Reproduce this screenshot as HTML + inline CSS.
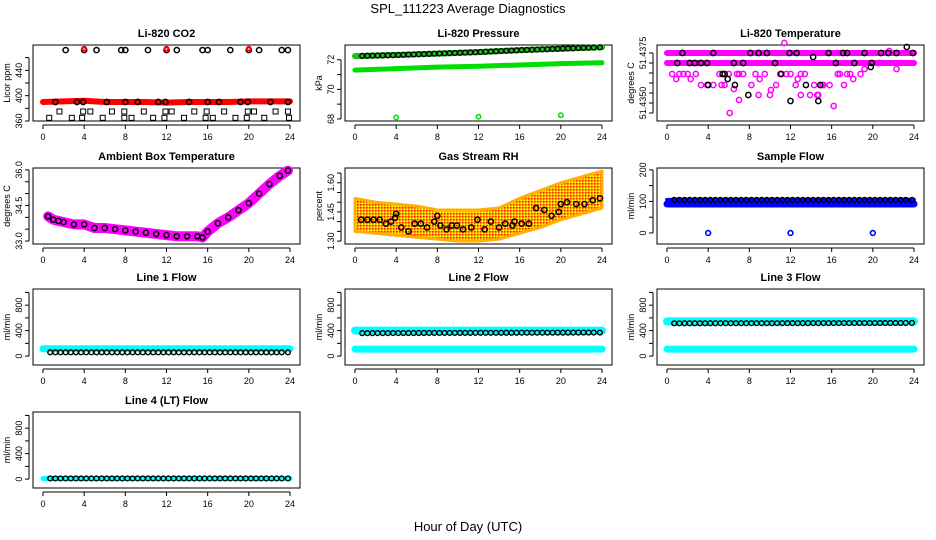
<!DOCTYPE html>
<html><head><meta charset="utf-8"><style>
html,body{margin:0;padding:0;background:#fff;}
svg{display:block;font-family:"Liberation Sans",sans-serif;}
</style></head><body>
<svg id="chart" width="936" height="540" viewBox="0 0 936 540" xmlns="http://www.w3.org/2000/svg">
<defs>
<pattern id="rhpat" width="3" height="3" patternUnits="userSpaceOnUse"><rect width="3" height="3" fill="#ffb000"/><rect x="0" y="0" width="1.5" height="1.5" fill="#ff2000"/><rect x="1.5" y="1.5" width="1.5" height="1.5" fill="#ffff00"/></pattern>
</defs>
<text x="468" y="13" text-anchor="middle" font-size="13">SPL_111223  Average Diagnostics</text>
<text x="468" y="531" text-anchor="middle" font-size="13">Hour of Day (UTC)</text>
<g id="panels"></g>
</svg>
<script>
// ---- data ----
const xTicks = [0,4,8,12,16,20,24];
// CO2
const co2BandHours = [0,2,4,6,8,10,12,14,16,18,20,22,24];
const co2BandVals = [390,391,392,390,390,390,389,390,390,390,391,391,391];
const co2MidHours = [1.2,3.3,3.9,6.2,8,9.2,11.2,11.9,14.2,16,17.1,19.2,19.9,22.1,23.8];
const co2MidVals = [390,390,390,390,390,390,390,390,390,390,390,390,390,390,390];
const co2TopHours = [2.2,4,5.2,7.6,8,10.2,12,13,15.5,16,18.2,20,21,23.2,23.8];
const co2TopVals = [472,472,472,472,472,472,472,472,472,472,472,472,472,472,472];
const co2RedTopHours = [4,12,20];
const co2RedTopVals = [474,474,474];
const co2SqHours = [1.6,3.9,4.6,6.7,7.9,9.8,11.9,12.5,14.7,15.9,17.6,19.9,20.5,22.6,23.8,0.6,2.8,3.8,5.8,7.9,8.6,10.7,11.8,13.7,15.8,16.5,18.7,19.8,21.5,23.9];
const co2SqVals = [375,375,375,375,375,375,375,375,375,375,375,375,375,375,375,365,365,365,365,365,365,365,365,365,365,365,365,365,365,365];
// Pressure
const pHours = [0,4,8,12,16,20,24];
const pBlack = [72.25,72.32,72.42,72.52,72.65,72.75,72.85];
const pGreen = [71.3,71.4,71.5,71.56,71.65,71.74,71.8];
const pOutHours = [4,12,20];
const pOutVals = [68.1,68.15,68.25];
// Li-820 Temperature
const tBandHours = [0,24];
const tBandHigh = [51.4375,51.4375];
const tBandLow = [51.43700,51.43700];
const tMagHours = [0.5,0.9,2.3,2.8,3.3,3.9,4.5,5.1,5.6,6.1,6.5,7.0,7.4,8.2,8.9,9.5,10.1,10.6,11.0,11.4,12.0,12.5,13.0,13.4,13.9,14.3,14.7,15.2,15.8,16.2,16.6,17.2,17.8,18.1,19.2,20.6,21.6,22.3,3.0,5.3,9.0,10.0,12.7,14.6,15.1,7.0,1.2,1.6,2.0,6.0,6.8,8.6,11.6,13.0,16.8,17.5,18.8];
const tMagVals = [51.43645,51.43620,51.43620,51.43645,51.4359,51.4359,51.4359,51.43645,51.4359,51.43450,51.4357,51.43645,51.43645,51.4359,51.4354,51.43645,51.43565,51.4359,51.43645,51.4380,51.43645,51.4359,51.4354,51.43645,51.4354,51.4359,51.43540,51.4359,51.4359,51.43485,51.43645,51.4359,51.43645,51.43620,51.43670,51.43700,51.43760,51.43670,51.43700,51.43590,51.43620,51.43540,51.43620,51.4354,51.4359,51.43515,51.43645,51.43645,51.43645,51.43645,51.43645,51.43645,51.43645,51.43645,51.43645,51.43645,51.43645];
const tBlackHours = [1.5,2.2,2.7,3.3,3.9,4.5,5.6,5.9,6.5,7.4,8.1,8.9,9.7,10.5,11.1,11.9,12.6,13.5,14.2,14.9,15.7,16.4,17.1,17.5,18.2,19.2,19.9,20.8,21.5,22.3,23.3,23.9,1.0,4.0,6.6,7.9,12.0,14.7,19.8,5.4];
const tBlackVals = [51.4375,51.4370,51.4370,51.4370,51.4370,51.4375,51.43645,51.43620,51.4370,51.4370,51.4375,51.4375,51.4375,51.4370,51.43645,51.4375,51.4375,51.4359,51.4373,51.4359,51.4375,51.4370,51.4375,51.4375,51.4370,51.4375,51.4370,51.4375,51.4375,51.4375,51.4378,51.4375,51.4370,51.4359,51.4359,51.4354,51.43510,51.43510,51.43680,51.43645];
// Ambient
const aHours = [0.5,1,1.5,2,3,4,5,6,7,8,9,10,11,12,13,14,15,15.5,16,17,18,19,20,21,22,23,23.8];
const aVals = [34.04,33.9,33.85,33.8,33.7,33.7,33.55,33.55,33.5,33.45,33.4,33.35,33.3,33.25,33.2,33.2,33.2,33.15,33.4,33.75,34.0,34.3,34.6,35.0,35.4,35.75,35.97];
// Gas stream RH
const rhHours = [0,2,4,6,8,10,12,14,16,18,20,22,24];
const rhUpper = [1.52,1.50,1.49,1.48,1.46,1.46,1.46,1.47,1.52,1.56,1.60,1.63,1.66];
const rhLower = [1.35,1.34,1.33,1.32,1.31,1.30,1.30,1.31,1.34,1.37,1.41,1.44,1.47];
const rhBlackHours = [0.6,1.2,1.8,2.4,3,3.5,3.9,4.5,5.2,5.8,6.4,7.0,7.7,8.3,8.9,9.4,9.9,10.5,11.3,11.9,12.6,13.2,14.0,14.6,15.3,16.2,16.9,17.6,18.4,19.1,19.8,20.6,21.5,22.3,23.1,23.8,4.0,8.0,15.5,20.0];
const rhBlackVals = [1.41,1.41,1.41,1.41,1.39,1.40,1.42,1.37,1.35,1.39,1.39,1.37,1.40,1.38,1.36,1.38,1.38,1.36,1.37,1.41,1.36,1.40,1.37,1.39,1.38,1.39,1.39,1.47,1.46,1.43,1.45,1.50,1.49,1.49,1.51,1.52,1.44,1.43,1.40,1.49];
// Sample flow
const sHours = [0,24];
const sBlack = [105,105];
const sBlue = [92,92];
const sOutHours = [4,12,20];
const sOutVals = [0,0,0];
// Line flows
const lHours = [0,24];
const l1Cyan = [115,115];
const l1Black = [60,60];
const l2CyanHigh = [400,400];
const l2CyanLow = [110,110];
const l2Black = [360,370];
const l3CyanHigh = [545,545];
const l3CyanLow = [110,110];
const l3Black = [515,520];
const l4Cyan = [10,10];
const l4Black = [10,10];
const circleHours = [0.7,1.2,1.7,2.2,2.7,3.2,3.7,4.2,4.7,5.2,5.7,6.2,6.7,7.2,7.7,8.2,8.7,9.2,9.7,10.2,10.7,11.2,11.7,12.2,12.7,13.2,13.7,14.2,14.7,15.2,15.7,16.2,16.7,17.2,17.7,18.2,18.7,19.2,19.7,20.2,20.7,21.2,21.7,22.2,22.7,23.2,23.8];

// ---- layout ----
const NS = "http://www.w3.org/2000/svg";
const root = document.getElementById('panels');
const cols = [33,345,657];
const rows = [45,168,289,412];
const W = 267, H = 76;
function mk(tag, attrs, parent){const e=document.createElementNS(NS,tag);for(const k in attrs)e.setAttribute(k,attrs[k]);(parent||root).appendChild(e);return e;}
function interp(hs, vs, h){for(let i=0;i<hs.length-1;i++){if(h>=hs[i]&&h<=hs[i+1]){const t=(h-hs[i])/(hs[i+1]-hs[i]);return vs[i]+t*(vs[i+1]-vs[i]);}}return vs[vs.length-1];}

function panel(name, c, r, title, ytitle, ymin, ymax, yt, ylab, fmt){
  const x0=cols[c], y0=rows[r];
  const g=mk('g',{});
  
  
  const xs=h=>x0+10+h*(247/24);
  const ys=v=>y0+H-(v-ymin)/(ymax-ymin)*H;
  const t=mk('text',{x:x0+W/2,y:y0-8,'text-anchor':'middle','font-size':11,'font-weight':'bold'},g);t.textContent=title;
  
  
  const box=mk('rect',{x:x0,y:y0,width:W,height:H,fill:'none',stroke:'#000','stroke-width':1},g);
  
  
  const xa=mk('g',{},g);
  
  
  mk('line',{x1:xs(0),x2:xs(24),y1:y0+H+4,y2:y0+H+4,stroke:'#000'},xa);
  xTicks.forEach(h=>{mk('line',{x1:xs(h),x2:xs(h),y1:y0+H+4,y2:y0+H+8,stroke:'#000'},xa);
    const tl=mk('text',{x:xs(h),y:y0+H+19,'text-anchor':'middle','font-size':9},xa);tl.textContent=h;});
  const ya=mk('g',{},g);
  
  
  mk('line',{x1:x0-4,x2:x0-4,y1:ys(yt[0]),y2:ys(yt[yt.length-1]),stroke:'#000'},ya);
  yt.forEach(v=>{mk('line',{x1:x0-4,x2:x0-8,y1:ys(v),y2:ys(v),stroke:'#000'},ya);});
  ylab.forEach(v=>{const yy=ys(v);const tl=mk('text',{x:x0-11,y:yy,'text-anchor':'middle','font-size':9,transform:`rotate(-90 ${x0-11} ${yy})`},ya);tl.textContent=fmt(v);});
  const yt2=mk('text',{x:x0-23,y:y0+H/2,'text-anchor':'middle','font-size':9,transform:`rotate(-90 ${x0-23} ${y0+H/2})`},g);yt2.textContent=ytitle;
  
  
  const marks=mk('g',{},g);
  
  
  return {xs,ys,g:marks,x0,y0};
}
function band(p,hs,vs,color,w,name){
  const pts=hs.map((h,i)=>p.xs(h)+','+p.ys(vs[i])).join(' ');
  const e=mk('polyline',{points:pts,fill:'none',stroke:color,'stroke-width':w,'stroke-linecap':'round','stroke-linejoin':'round'},p.g);
  
  
}
function pts(p,hs,vs,color,name,rad,sw){
  hs.forEach((h,i)=>{const e=mk('circle',{cx:p.xs(h),cy:p.ys(vs[i]),r:rad||2.6,fill:'none',stroke:color,'stroke-width':sw||1.5},p.g);
    
    });
}
function sq(p,hs,vs,name){
  hs.forEach((h,i)=>{const e=mk('rect',{x:p.xs(h)-2.5,y:p.ys(vs[i])-2.5,width:5,height:5,fill:'none',stroke:'#000','stroke-width':1},p.g);
    
    });
}
const range=(a,b,s)=>{const o=[];for(let v=a;v<=b+1e-9;v+=s)o.push(+v.toFixed(6));return o;};

// CO2
let p=panel('co2',0,0,'Li-820 CO2','Licor ppm',360,480,range(360,460,20),[360,400,440],v=>v);
band(p,co2BandHours,co2BandVals,'#ff0000',6,'co2-red-band');
pts(p,co2MidHours,co2MidVals,'#000','co2-black-point');
pts(p,co2TopHours,co2TopVals,'#000','co2-top-point');
pts(p,co2RedTopHours,co2RedTopVals,'#ff0000','co2-red-top-point',2,2);
sq(p,co2SqHours,co2SqVals,'co2-square-point');

// Pressure
p=panel('pressure',1,0,'Li-820 Pressure','kPa',67.86,73.0,range(68,72,1),[68,70,72],v=>v);
band(p,pHours,pGreen,'#00dd00',5,'pressure-green-band');
band(p,pHours,pBlack,'#22bb22',6,'pressure-black-band');
pts(p,circleHours,circleHours.map(h=>interp(pHours,pBlack,h)),'#000','pressure-black-point',2.4,1.4);
pts(p,pOutHours,pOutVals,'#00dd00','pressure-outlier',2.2,1.5);

// Li-820 Temperature
p=panel('li820-temp',2,0,'Li-820 Temperature','degrees C',51.4341,51.4379,range(51.4345,51.4375,0.0005),[51.4350,51.4375],v=>v.toFixed(4));
band(p,tBandHours,tBandHigh,'#ff00ff',6,'temp-magenta-band-high');
band(p,tBandHours,tBandLow,'#ff00ff',6,'temp-magenta-band-low');
pts(p,tMagHours,tMagVals,'#ff00ff','temp-magenta-point',2.6,1.5);
pts(p,tBlackHours,tBlackVals,'#000','temp-black-point',2.6,1.5);

// Ambient
p=panel('ambient-temp',0,1,'Ambient Box Temperature','degrees C',32.875,36.08,range(33,36,0.5),[33.0,34.5,36.0],v=>v.toFixed(1));
band(p,aHours,aVals,'#ff00ff',10,'ambient-magenta-band');
pts(p,aHours,aVals,'#000','ambient-black-point',2.6,1.5);

// RH
p=panel('gas-rh',1,1,'Gas Stream RH','percent',1.285,1.676,range(1.30,1.65,0.05),[1.30,1.45,1.60],v=>v.toFixed(2));
{const up=rhHours.map((h,i)=>p.xs(h)+','+p.ys(rhUpper[i]));const lo=rhHours.map((h,i)=>p.xs(h)+','+p.ys(rhLower[i])).reverse();
 const e=mk('polygon',{points:up.concat(lo).join(' '),fill:'url(#rhpat)',stroke:'#ffb000','stroke-width':3,'stroke-linejoin':'round'},p.g);
 
 }
pts(p,rhBlackHours,rhBlackVals,'#000','rh-black-point',2.6,1.5);

// Sample flow
p=panel('sample-flow',2,1,'Sample Flow','ml/min',-35,206,range(0,200,50),[0,100,200],v=>v);
band(p,sHours,sBlue,'#0000ff',7,'sample-blue-band');
band(p,sHours,sBlack,'#0000ff',4,'sample-black-band');
pts(p,circleHours,circleHours.map(h=>interp(sHours,sBlack,h)),'#000','sample-black-point',2.4,1.4);
pts(p,sOutHours,sOutVals,'#0000ff','sample-outlier',2.4,1.6);

// Line flows
const lt=range(0,1000,200), ll=[0,400,800];
p=panel('line1-flow',0,2,'Line 1 Flow','ml/min',-140,1054,lt,ll,v=>v);
band(p,lHours,l1Cyan,'#00ffff',7,'line1-cyan-band');
pts(p,circleHours,circleHours.map(h=>interp(lHours,l1Black,h)),'#000','line1-black-point',2.4,1.4);

p=panel('line2-flow',1,2,'Line 2 Flow','ml/min',-140,1054,lt,ll,v=>v);
band(p,lHours,l2CyanHigh,'#00ffff',8,'line2-cyan-band-high');
band(p,lHours,l2CyanLow,'#00ffff',7,'line2-cyan-band-low');
pts(p,circleHours,circleHours.map(h=>interp(lHours,l2Black,h)),'#000','line2-black-point',2.4,1.4);

p=panel('line3-flow',2,2,'Line 3 Flow','ml/min',-140,1054,lt,ll,v=>v);
band(p,lHours,l3CyanHigh,'#00ffff',8,'line3-cyan-band-high');
band(p,lHours,l3CyanLow,'#00ffff',7,'line3-cyan-band-low');
pts(p,circleHours,circleHours.map(h=>interp(lHours,l3Black,h)),'#000','line3-black-point',2.4,1.4);

p=panel('line4-flow',0,3,'Line 4 (LT) Flow','ml/min',-140,1054,lt,ll,v=>v);
band(p,lHours,l4Cyan,'#00ffff',5,'line4-cyan-band');
pts(p,circleHours,circleHours.map(h=>interp(lHours,l4Black,h)),'#000','line4-black-point',2.4,1.4);
</script>
</body></html>
